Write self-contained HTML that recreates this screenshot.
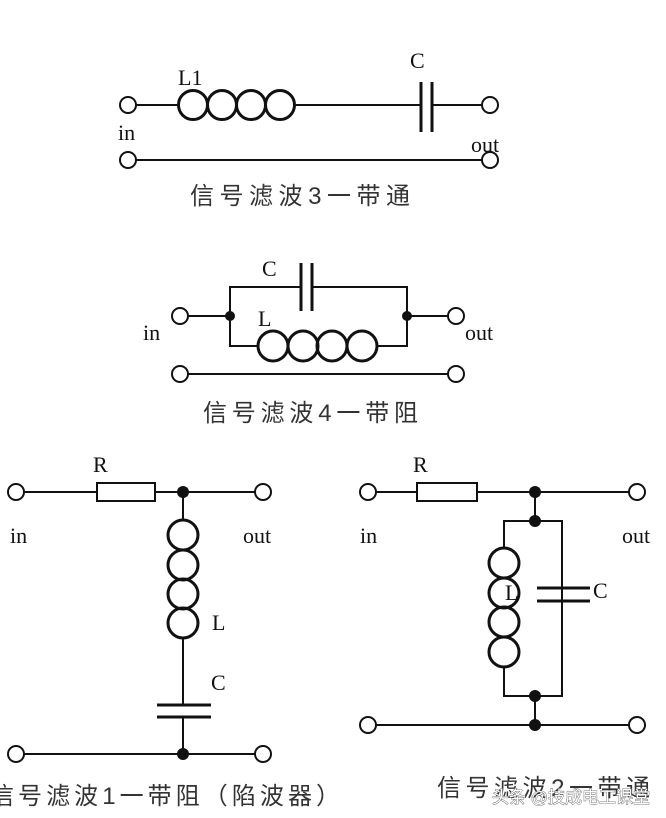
<!DOCTYPE html>
<html><head><meta charset="utf-8"><style>
html,body{margin:0;padding:0;background:#fff;}
svg{display:block;}
text{font-family:"Liberation Serif","Noto Serif CJK SC",serif;fill:#111;}
.cap{font-family:"Liberation Sans","Noto Sans CJK SC",sans-serif;fill:#333;font-size:24px;}
</style></head><body>
<svg width="666" height="818" viewBox="0 0 666 818" xmlns="http://www.w3.org/2000/svg">
<g stroke="#111" stroke-width="2" fill="none">
<!-- Circuit 1 -->
<circle cx="128" cy="105" r="8"/><circle cx="490" cy="105" r="8"/>
<circle cx="128" cy="160" r="8"/><circle cx="490" cy="160" r="8"/>
<line x1="136" y1="105" x2="178" y2="105"/>
<circle cx="193" cy="105" r="14.5" stroke-width="3"/><circle cx="222" cy="105" r="14.5" stroke-width="3"/>
<circle cx="251" cy="105" r="14.5" stroke-width="3"/><circle cx="280" cy="105" r="14.5" stroke-width="3"/>
<line x1="295" y1="105" x2="421" y2="105"/>
<line x1="421" y1="82" x2="421" y2="132" stroke-width="3"/><line x1="432" y1="82" x2="432" y2="132" stroke-width="3"/>
<line x1="432" y1="105" x2="482" y2="105"/>
<line x1="136" y1="160" x2="482" y2="160"/>
<!-- Circuit 2 -->
<circle cx="180" cy="316" r="8"/><circle cx="456" cy="316" r="8"/>
<circle cx="180" cy="374" r="8"/><circle cx="456" cy="374" r="8"/>
<line x1="188" y1="316" x2="230" y2="316"/><line x1="407" y1="316" x2="448" y2="316"/>
<polyline points="230,316 230,287 301,287"/><polyline points="312,287 407,287 407,316"/>
<line x1="301" y1="263" x2="301" y2="311" stroke-width="3"/><line x1="312" y1="263" x2="312" y2="311" stroke-width="3"/>
<polyline points="230,316 230,346 258,346"/><polyline points="377,346 407,346 407,316"/>
<circle cx="273" cy="346" r="15" stroke-width="3"/><circle cx="303" cy="346" r="15" stroke-width="3"/>
<circle cx="332" cy="346" r="15" stroke-width="3"/><circle cx="362" cy="346" r="15" stroke-width="3"/>
<line x1="188" y1="374" x2="448" y2="374"/>
<!-- Circuit 3 -->
<circle cx="16" cy="492" r="8"/><circle cx="263" cy="492" r="8"/>
<circle cx="16" cy="754" r="8"/><circle cx="263" cy="754" r="8"/>
<line x1="24" y1="492" x2="97" y2="492"/><rect x="97" y="483" width="58" height="18"/>
<line x1="155" y1="492" x2="255" y2="492"/>
<line x1="183" y1="492" x2="183" y2="520"/>
<circle cx="183" cy="535" r="15" stroke-width="3"/><circle cx="183" cy="565" r="15" stroke-width="3"/>
<circle cx="183" cy="594" r="15" stroke-width="3"/><circle cx="183" cy="623" r="15" stroke-width="3"/>
<line x1="183" y1="638" x2="183" y2="705"/>
<line x1="157" y1="705" x2="211" y2="705" stroke-width="3"/><line x1="157" y1="717" x2="211" y2="717" stroke-width="3"/>
<line x1="183" y1="717" x2="183" y2="754"/>
<line x1="24" y1="754" x2="255" y2="754"/>
<!-- Circuit 4 -->
<circle cx="368" cy="492" r="8"/><circle cx="637" cy="492" r="8"/>
<circle cx="368" cy="725" r="8"/><circle cx="637" cy="725" r="8"/>
<line x1="376" y1="492" x2="417" y2="492"/><rect x="417" y="483" width="60" height="18"/>
<line x1="477" y1="492" x2="629" y2="492"/>
<line x1="535" y1="492" x2="535" y2="521"/>
<polyline points="504,548 504,521 562,521 562,696 504,696 504,667"/>
<circle cx="504" cy="563" r="15" stroke-width="3"/><circle cx="504" cy="593" r="15" stroke-width="3"/>
<circle cx="504" cy="622" r="15" stroke-width="3"/><circle cx="504" cy="652" r="15" stroke-width="3"/>
<line x1="537" y1="588" x2="590" y2="588" stroke-width="3"/><line x1="537" y1="601" x2="590" y2="601" stroke-width="3"/>
<line x1="535" y1="696" x2="535" y2="725"/>
<line x1="376" y1="725" x2="629" y2="725"/>
</g>
<g fill="#111">
<circle cx="230" cy="316" r="5"/><circle cx="407" cy="316" r="5"/>
<circle cx="183" cy="492" r="6"/><circle cx="183" cy="754" r="6"/>
<circle cx="535" cy="492" r="6"/><circle cx="535" cy="521" r="6"/>
<circle cx="535" cy="696" r="6"/><circle cx="535" cy="725" r="6"/>
</g>
<g font-size="22">
<text x="178" y="85">L1</text><text x="410" y="68">C</text>
<text x="118" y="140">in</text><text x="471" y="152">out</text>
<text x="262" y="276">C</text><text x="258" y="326">L</text>
<text x="143" y="340">in</text><text x="465" y="340">out</text>
<text x="93" y="472">R</text><text x="10" y="543">in</text><text x="243" y="543">out</text>
<text x="212" y="630">L</text><text x="211" y="690">C</text>
<text x="413" y="472">R</text><text x="360" y="543">in</text><text x="622" y="543">out</text>
<text x="505" y="600">L</text><text x="593" y="598">C</text>
</g>
<text class="cap" x="190" y="204" textLength="220" lengthAdjust="spacing">信号滤波3一带通</text>
<text class="cap" x="203" y="421" textLength="215" lengthAdjust="spacing">信号滤波4一带阻</text>
<text class="cap" x="-10" y="804" textLength="350" lengthAdjust="spacing">信号滤波1一带阻（陷波器）</text>
<text class="cap" x="437" y="796" textLength="213" lengthAdjust="spacing">信号滤波2一带通</text>
<text x="492" y="803" font-size="17" style="font-family:'Liberation Sans','Noto Sans CJK SC',sans-serif;fill:#fff;stroke:#555;stroke-width:0.8;paint-order:stroke;">头条 @技成电工课堂</text>
</svg>
</body></html>
